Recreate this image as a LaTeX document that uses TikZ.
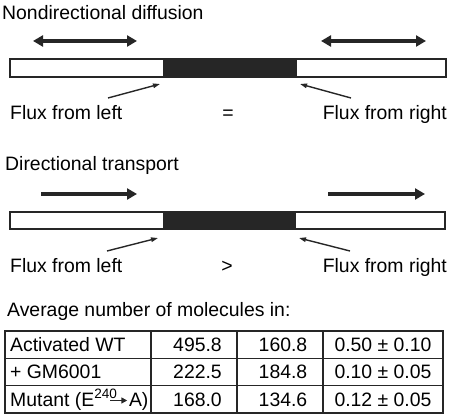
\documentclass[tikz,border=0pt]{standalone}
\usepackage{fontspec}
\setmainfont{Liberation Sans}
\usetikzlibrary{arrows.meta}
\definecolor{ink}{HTML}{262626}
\begin{document}
\begin{tikzpicture}[x=1pt,y=-1pt,
  txt/.style={inner sep=0pt, font=\fontsize{19.4}{22}\selectfont, text=black},
  barbox/.style={draw=ink, line width=2.2pt, fill=white, inner sep=0pt,
                 minimum width=435.8pt, minimum height=17.5pt},
  segbox/.style={fill=ink, inner sep=0pt, minimum height=19pt},
  bigarrow/.style={draw=ink, line width=3.6pt, -{Triangle[length=10pt,width=11pt]}},
  bigdouble/.style={draw=ink, line width=3.6pt, {Triangle[length=10pt,width=11pt]}-{Triangle[length=10pt,width=11pt]}},
  pointer/.style={draw=ink, line width=1.4pt, -{Triangle[length=7pt,width=4.5pt]}},
  tline/.style={draw=ink, line width=1.3pt}]
\useasboundingbox (0,0) rectangle (453,419);

% ---------- Nondirectional diffusion ----------
\node[txt, anchor=base west] (t1) at (2,20) {Nondirectional diffusion};
\coordinate (d1a) at (33,41);  \coordinate (d1b) at (137,41);
\coordinate (d2a) at (321,41); \coordinate (d2b) at (426,41);
\draw[bigdouble] (d1a) -- (d1b);
\draw[bigdouble] (d2a) -- (d2b);
\node[barbox] (bar1) at (228,68) {};
\node[segbox, minimum width=134pt] (seg1) at (230,68) {};
\coordinate (p1a) at (108,98);  \coordinate (p1b) at (160,84);
\coordinate (p2a) at (351,98);  \coordinate (p2b) at (300,84);
\draw[pointer] (p1a) -- (p1b);
\draw[pointer] (p2a) -- (p2b);
\node[txt, anchor=base west] (fl1) at (10,120) {Flux from left};
\node[txt, anchor=base] (eq) at (228,120) {=};
\node[txt, anchor=base east] (fr1) at (447,120) {Flux from right};

% ---------- Directional transport ----------
\node[txt, anchor=base west] (t2) at (5,171) {Directional transport};
\coordinate (r1a) at (41,194);  \coordinate (r1b) at (137,194);
\coordinate (r2a) at (328,194); \coordinate (r2b) at (425,194);
\draw[bigarrow] (r1a) -- (r1b);
\draw[bigarrow] (r2a) -- (r2b);
\node[barbox, minimum width=435pt] (bar2) at (227.5,220.5) {};
\node[segbox, minimum width=133pt] (seg2) at (229.5,220.5) {};
\coordinate (q1a) at (107,251);  \coordinate (q1b) at (158,238);
\coordinate (q2a) at (350,251);  \coordinate (q2b) at (299,238);
\draw[pointer] (q1a) -- (q1b);
\draw[pointer] (q2a) -- (q2b);
\node[txt, anchor=base west] (fl2) at (10,273) {Flux from left};
\node[txt, anchor=base] (gt) at (227,273) {>};
\node[txt, anchor=base east] (fr2) at (447,273) {Flux from right};

% ---------- Table ----------
\node[txt, anchor=base west] (avg) at (7,317) {Average number of molecules in:};
\draw[tline] (5,331) rectangle (443,413);
\draw[tline] (5,358.3) -- (443,358.3);
\draw[tline] (5,385.6) -- (443,385.6);
\draw[tline] (151,331) -- (151,413);
\draw[tline] (237,331) -- (237,413);
\draw[tline] (323,331) -- (323,413);

\node[txt, anchor=base west] (c11) at (10,351.5) {Activated WT};
\node[txt, anchor=base] (c12) at (197.5,351.5) {495.8};
\node[txt, anchor=base] (c13) at (283,351.5) {160.8};
\node[txt, anchor=base] (c14) at (383,351.5) {0.50 ± 0.10};

\node[txt, anchor=base west] (c21) at (10,379) {+ GM6001};
\node[txt, anchor=base] (c22) at (197.5,379) {222.5};
\node[txt, anchor=base] (c23) at (283,379) {184.8};
\node[txt, anchor=base] (c24) at (383,379) {0.10 ± 0.05};

\node[txt, anchor=base west] (c31) at (10,406.5) {Mutant (E\textsuperscript{240}\kern-8pt\tikz[baseline=0pt]\draw[ink, line width=1.6pt, -{Triangle[length=6pt,width=6pt]}] (0pt,6pt) -- (17pt,6pt);\kern1pt A)};
\node[txt, anchor=base] (c32) at (197.5,406.5) {168.0};
\node[txt, anchor=base] (c33) at (283,406.5) {134.6};
\node[txt, anchor=base] (c34) at (383,406.5) {0.12 ± 0.05};
\end{tikzpicture}
\end{document}
